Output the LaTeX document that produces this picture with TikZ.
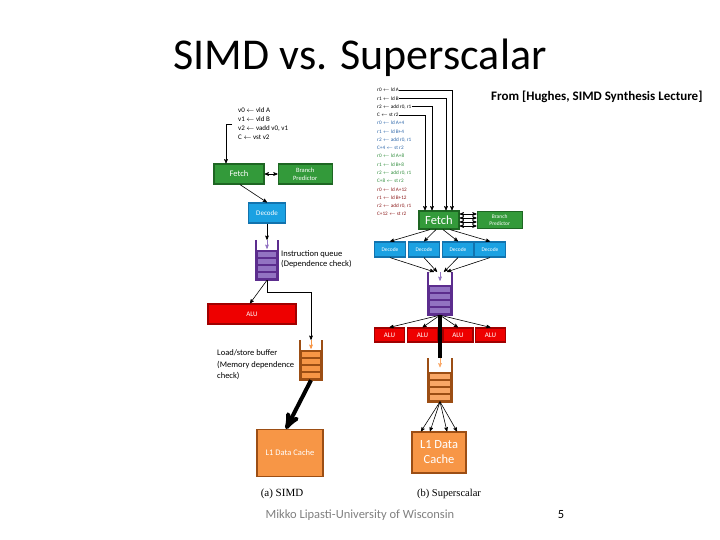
\documentclass[tikz,border=0pt]{standalone}
\usepackage{fontspec}
\setmainfont{Carlito}
\newfontfamily\capfont{Liberation Serif}
\usepackage{tikz}
\usetikzlibrary{calc,arrows,positioning}

\definecolor{fetchgreen}{HTML}{339A3A}
\definecolor{fetchdark}{HTML}{1E6623}
\definecolor{decblue}{HTML}{1BA1E2}
\definecolor{decdark}{HTML}{1273AE}
\definecolor{alured}{HTML}{EE0000}
\definecolor{aludark}{HTML}{A00000}
\definecolor{cacheorange}{HTML}{F79646}
\definecolor{cachedark}{HTML}{9C4E14}
\definecolor{qlight}{HTML}{9273C2}
\definecolor{qdark}{HTML}{5C2D8E}
\definecolor{olight}{HTML}{F9A766}
\definecolor{codeblue}{HTML}{2A64A8}
\definecolor{codegreen}{HTML}{2E8B3A}
\definecolor{codered}{HTML}{8B1A1A}
\definecolor{footgray}{HTML}{7F7F7F}

\newcommand{\setsz}[2]{\fontsize{#1}{#2}\selectfont}
% open-top queue drawn over a named node
\newcommand{\stackslots}[3]{%
  \fill[#3] (#1.south west) rectangle ($(#1.south east)+(0pt,30pt)$);
  \foreach \b/\t in {2/7,9/14,16/21,23/28}
    \fill[#2] ($(#1.south west)+(2pt,\b pt)$) rectangle ($(#1.south east)+(-2pt,\t pt)$);
  \draw[#3, line width=1.8pt] (#1.north west) -- (#1.south west) -- (#1.south east) -- (#1.north east);
  \draw[->, #2, line width=0.6pt] (#1.north) -- ($(#1.north)+(0pt,-9pt)$);
}

\tikzset{
  box/.style={draw, line width=1.2pt, inner sep=0pt, align=center, text=white},
  greenbox/.style={box, fill=fetchgreen, draw=fetchdark},
  bluebox/.style={box, fill=decblue, draw=decdark},
  redbox/.style={box, fill=alured, draw=aludark},
  orangebox/.style={box, fill=cacheorange, draw=cachedark},
  stack/.style={inner sep=0pt, minimum width=22pt, minimum height=40pt},
  code/.style={anchor=west, inner sep=0pt, font=\setsz{5.2}{6}},
  link/.style={->, line width=0.6pt},
}

\begin{document}
\begin{tikzpicture}[x=1pt, y=-1pt, >=stealth']
\useasboundingbox (0,0) rectangle (720,540);

\node[font=\setsz{44}{48}] (title) at (360,58) {SIMD vs. Superscalar};
\node[anchor=east, font=\bfseries\setsz{13}{15}] (src) at (706,97) {From [Hughes, SIMD Synthesis Lecture]};

% (a) SIMD
\node[anchor=west, align=left, inner sep=0pt, font=\setsz{7}{9}] (simdcode) at (238,124)
  {v0 $\leftarrow$ vld A\\v1 $\leftarrow$ vld B\\v2 $\leftarrow$ vadd v0, v1\\C $\leftarrow$ vst v2};
\node[greenbox, minimum width=50pt, minimum height=20pt, font=\setsz{8.5}{10}] (fetchL) at (239,174) {Fetch};
\node[greenbox, minimum width=54pt, minimum height=20pt, font=\setsz{6.5}{8}, right=13pt of fetchL] (bpL) {Branch\\Predictor};
\node[bluebox, minimum width=37pt, minimum height=20pt, font=\setsz{7}{8}] (decL) at (267,213) {Decode};
\node[stack] (iqL) at (267,260) {};
\node[anchor=west, align=left, inner sep=0pt, font=\setsz{8.5}{10}] (iqtxt) at (281,259) {Instruction queue\\(Dependence check)};
\node[redbox, minimum width=88pt, minimum height=20pt, font=\setsz{7}{8}] (aluL) at (252,314) {ALU};
\node[stack] (lsqL) at (311,360) {};
\node[anchor=west, align=left, inner sep=0pt, font=\setsz{8.5}{11.5}] (lsqtxt) at (217,365) {Load/store buffer\\(Memory dependence\\check)};
\node[orangebox, minimum width=66pt, minimum height=47pt, font=\setsz{8.5}{10}] (l1L) at (290,453) {L1 Data Cache};
\node[font=\capfont\setsz{11}{13}] (capA) at (282,494) {(a) SIMD};

\stackslots{iqL}{qlight}{qdark}
\stackslots{lsqL}{cacheorange}{cachedark}

\draw[link] ([xshift=-6pt]simdcode.west) -| ([xshift=-13pt]fetchL.north);
\draw[<->, line width=0.6pt] (fetchL) -- (bpL);
\draw[link] ([xshift=1pt]fetchL.south) -- (decL.north);
\draw[link] (decL) -- (iqL.north);
\draw[link] (iqL.south) -- ([xshift=-2pt]aluL.north);
\draw[link] (iqL.south) -- ++(0,12) -| (lsqL.north);
\draw[->, line width=4pt] (lsqL.south) -- ([xshift=-4pt]l1L.north);

% (b) Superscalar
\foreach \g/\col/\off in {0/black/, 1/codeblue/+4, 2/codegreen/+8, 3/codered/+12} {
  \node[code, text=\col] (c\g-1) at (377,90+33.08*\g) {r0 $\leftarrow$ ld A\off};
  \node[code, text=\col] (c\g-2) at (377,98.27+33.08*\g) {r1 $\leftarrow$ ld B\off};
  \node[code, text=\col] (c\g-3) at (377,106.54+33.08*\g) {r2 $\leftarrow$ add r0, r1};
  \node[code, text=\col] (c\g-4) at (377,114.81+33.08*\g) {C\off{} $\leftarrow$ st r2};
}
\node[greenbox, minimum width=40pt, minimum height=18pt, font=\setsz{12.5}{14}] (fetchR) at (439,220) {Fetch};
\node[greenbox, minimum width=45pt, minimum height=17pt, font=\setsz{5.5}{7}, right=17pt of fetchR] (bpR) {Branch\\Predictor};
\foreach \i/\x in {1/390,2/424,3/458,4/490}
  \node[bluebox, minimum width=31pt, minimum height=15pt, font=\setsz{5.5}{7}] (decR\i) at (\x,249.5) {Decode};
\node[stack, minimum width=23pt, minimum height=43pt] (iqR) at (440,293.5) {};
\foreach \i/\x in {1/389.5,2/422.5,3/458,4/490.5}
  \node[redbox, minimum width=30pt, minimum height=14pt, font=\setsz{7}{8}] (aluR\i) at (\x,335) {ALU};
\node[stack, minimum width=23pt, minimum height=43pt] (lsqR) at (440,380) {};
\node[orangebox, minimum width=54pt, minimum height=41pt, font=\setsz{12.5}{15}] (l1R) at (439,452.5) {L1 Data\\Cache};
\node[font=\capfont\setsz{10.5}{12}] (capB) at (449,494) {(b) Superscalar};

\stackslots{iqR}{qlight}{qdark}
\stackslots{lsqR}{olight}{cachedark}

\draw[link] (c0-1.east) -| ([xshift=13pt]fetchR.north);
\draw[link] (c0-2.east) -| ([xshift=7pt]fetchR.north);
\draw[link] (c0-3.east) -| ([xshift=-7pt]fetchR.north);
\draw[link] (c0-4.east) -| ([xshift=-14pt]fetchR.north);
\foreach \dy in {-6,-2,2,6}
  \draw[<->, line width=0.6pt] ([yshift=\dy pt]fetchR.east) -- ([yshift=\dy pt]bpR.west);
\foreach \i/\s in {1/-9,2/-3,3/4,4/11}
  \draw[link] ([xshift=\s pt]fetchR.south) -- (decR\i.north);
\foreach \i/\s in {1/-6,2/-3,3/4,4/7}
  \draw[link] (decR\i.south) -- ([xshift=\s pt]iqR.north);
\foreach \i in {1,...,4}
  \draw[link] (iqR.south) -- (aluR\i.north);
\draw[line width=3.5pt] (iqR.south) -- (lsqR.north);
\foreach \s in {-18,-9,8,18}
  \draw[link] (lsqR.south) -- ([xshift=\s pt]l1R.north);

\node[text=footgray, font=\setsz{12.5}{14}] (foot) at (360,515) {Mikko Lipasti-University of Wisconsin};
\node[font=\setsz{12.5}{14}] (pagenum) at (561,515) {5};
\end{tikzpicture}
\end{document}
